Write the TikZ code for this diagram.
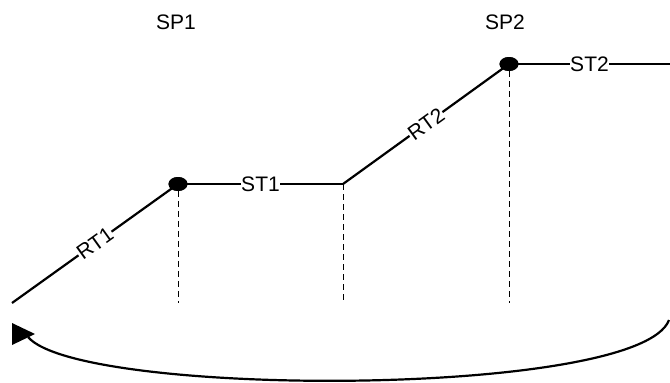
\documentclass[tikz,border=0pt]{standalone}
\usepackage{fontspec}
\setmainfont{Liberation Sans}
\usetikzlibrary{shapes.geometric}
\begin{document}
\begin{tikzpicture}[x=1pt,y=-1pt,
  seg/.style={line width=2.2pt,black},
  guide/.style={line width=0.8pt,dash pattern=on 6pt off 4pt},
  dotnode/.style={ellipse,fill=black,minimum width=19pt,minimum height=14pt,inner sep=0pt},
  lbl/.style={fill=white,inner sep=0.5pt,font=\fontsize{21}{23}\selectfont},
  top/.style={font=\fontsize{21}{23}\selectfont,inner sep=0pt}]
\useasboundingbox (0,0) rectangle (670,383);
\coordinate (s) at (12,303);
\node[dotnode] (d1) at (178,184) {};
\coordinate (c1) at (343,184);
\node[dotnode] (d2) at (509,64) {};
\coordinate (e2) at (670,64);
\coordinate (b1) at (178,303);
\coordinate (b2) at (343,303);
\coordinate (b3) at (509,303);
\coordinate (r) at (669,320);
\coordinate (l) at (28,337);
% dashed guides
\draw[guide] (d1.south) -- (b1);
\draw[guide] (c1) -- (b2);
\draw[guide] (d2.south) -- (b3);
% profile
\draw[seg] (s) -- node[lbl,sloped] {RT1} (d1.center);
\draw[seg] (d1.center) -- node[lbl] {ST1} (c1);
\draw[seg] (c1) -- node[lbl,sloped] {RT2} (d2.center);
\draw[seg] (d2.center) -- node[lbl] {ST2} (e2);
\node[dotnode] at (d1) {};
\node[dotnode] at (d2) {};
% labels
\node[top] (sp1) at (176,22) {SP1};
\node[top] (sp2) at (505,22) {SP2};
% return curve
\draw[seg] (r) .. controls (640,398) and (80,398) .. (l);
\fill (12,323) -- (12,345) -- (35,334) -- cycle;
\end{tikzpicture}
\end{document}
